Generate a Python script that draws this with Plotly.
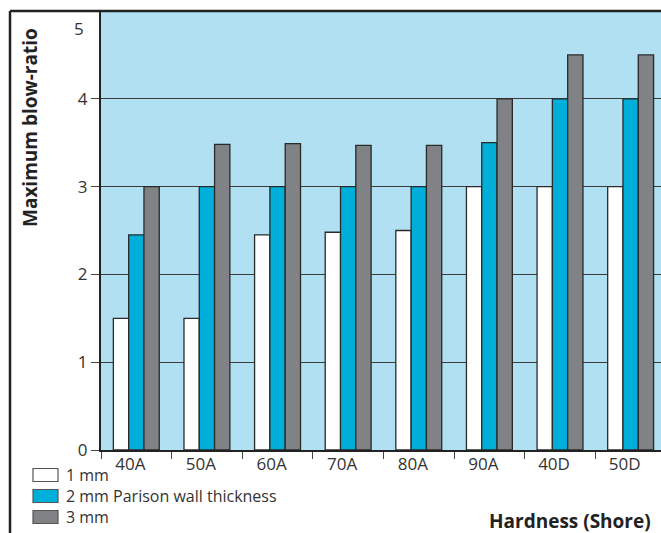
import plotly.graph_objects as go

categories = ["40A", "50A", "60A", "70A", "80A", "90A", "40D", "50D"]
mm1 = [1.5, 1.5, 2.45, 2.48, 2.5, 3.0, 3.0, 3.0]
mm2 = [2.45, 3.0, 3.0, 3.0, 3.0, 3.5, 4.0, 4.0]
mm3 = [3.0, 3.48, 3.49, 3.47, 3.47, 4.0, 4.5, 4.5]
series_names = ["1 mm", "2 mm Parison wall thickness", "3 mm"]
series_colors = ["#FFFFFF", "#00AEDA", "#808285"]
y_ticks = [0, 1, 2, 3, 4]
top_label = "5"

FONT = "Open Sans"
fig = go.Figure()
for name, vals, col in zip(series_names, [mm1, mm2, mm3], series_colors):
    fig.add_trace(go.Bar(
        x=categories, y=vals, name=name,
        marker=dict(color=col, line=dict(color="#2a2a2a", width=1.3)),
        showlegend=False,
    ))

W, H = 661, 533
L, R, T, B = 101, 0, 11, 83
pw = W - L - R
ph = H - T - B


def px_x(p):
    return (p - L) / pw


def px_y(p):
    return (H - B - p) / ph


shapes = [
    dict(type="line", xref="paper", yref="paper",
         x0=px_x(10), x1=px_x(670), y0=px_y(11), y1=px_y(11),
         line=dict(color="#222222", width=2.5)),
    dict(type="line", xref="paper", yref="paper",
         x0=px_x(10), x1=px_x(10), y0=px_y(11), y1=px_y(545),
         line=dict(color="#222222", width=2.5)),
]
annotations = [
    dict(text="<b>Maximum blow-ratio</b>", textangle=-90,
         xref="paper", yref="paper",
         x=px_x(30), y=px_y(128),
         xanchor="center", yanchor="middle", showarrow=False,
         font=dict(family=FONT, size=19, color="#222222")),
    dict(text="<b>Hardness (Shore)</b>",
         xref="paper", yref="paper",
         x=px_x(653), y=px_y(521),
         xanchor="right", yanchor="middle", showarrow=False,
         font=dict(family=FONT, size=19, color="#222222")),
    dict(text=top_label, xref="paper", yref="paper",
         x=px_x(86), y=px_y(29), xanchor="right", yanchor="middle",
         showarrow=False, font=dict(family=FONT, size=17, color="#333333")),
]

# legend (drawn as keys + labels)
legend_rows = [475, 496, 517]
for name, col, yc in zip(series_names, series_colors, legend_rows):
    shapes.append(dict(type="rect", xref="paper", yref="paper",
                       x0=px_x(33), x1=px_x(58), y0=px_y(yc - 6.5), y1=px_y(yc + 6.5),
                       fillcolor=col, line=dict(color="#555555", width=1.2)))
    annotations.append(dict(text=name, xref="paper", yref="paper",
                            x=px_x(64), y=px_y(yc), xanchor="left", yanchor="middle",
                            showarrow=False,
                            font=dict(family=FONT, size=16, color="#333333")))

fig.update_layout(
    width=W, height=H,
    margin=dict(l=L, r=R, t=T, b=B),
    paper_bgcolor="white",
    plot_bgcolor="#B0E0F1",
    barmode="group",
    bargap=0.35,
    bargroupgap=0,
    font=dict(family=FONT, size=17, color="#333333"),
    showlegend=False,
    xaxis=dict(
        type="category",
        range=[-0.5, 7.43],
        showline=True, linecolor="#222222", linewidth=2,
        ticks="outside", tickson="boundaries", ticklen=7, tickcolor="#444444", tickwidth=1,
        showgrid=False,
        ticklabelshift=-6,
        ticklabelstandoff=-2,
        tickfont=dict(family=FONT, size=17, color="#333333"),
    ),
    yaxis=dict(
        range=[0, 5],
        tickvals=y_ticks,
        showline=True, linecolor="#222222", linewidth=2,
        ticks="outside", ticklen=8, tickcolor="#444444", tickwidth=1,
        showgrid=True, gridcolor="#3c3c3c", gridwidth=1,
        zeroline=False,
        tickfont=dict(family=FONT, size=17, color="#333333"),
    ),
    shapes=shapes,
    annotations=annotations,
)

fig.write_html("out.html", config={"displayModeBar": False},
               post_script="document.body.style.margin='0';document.body.style.overflow='hidden';")
